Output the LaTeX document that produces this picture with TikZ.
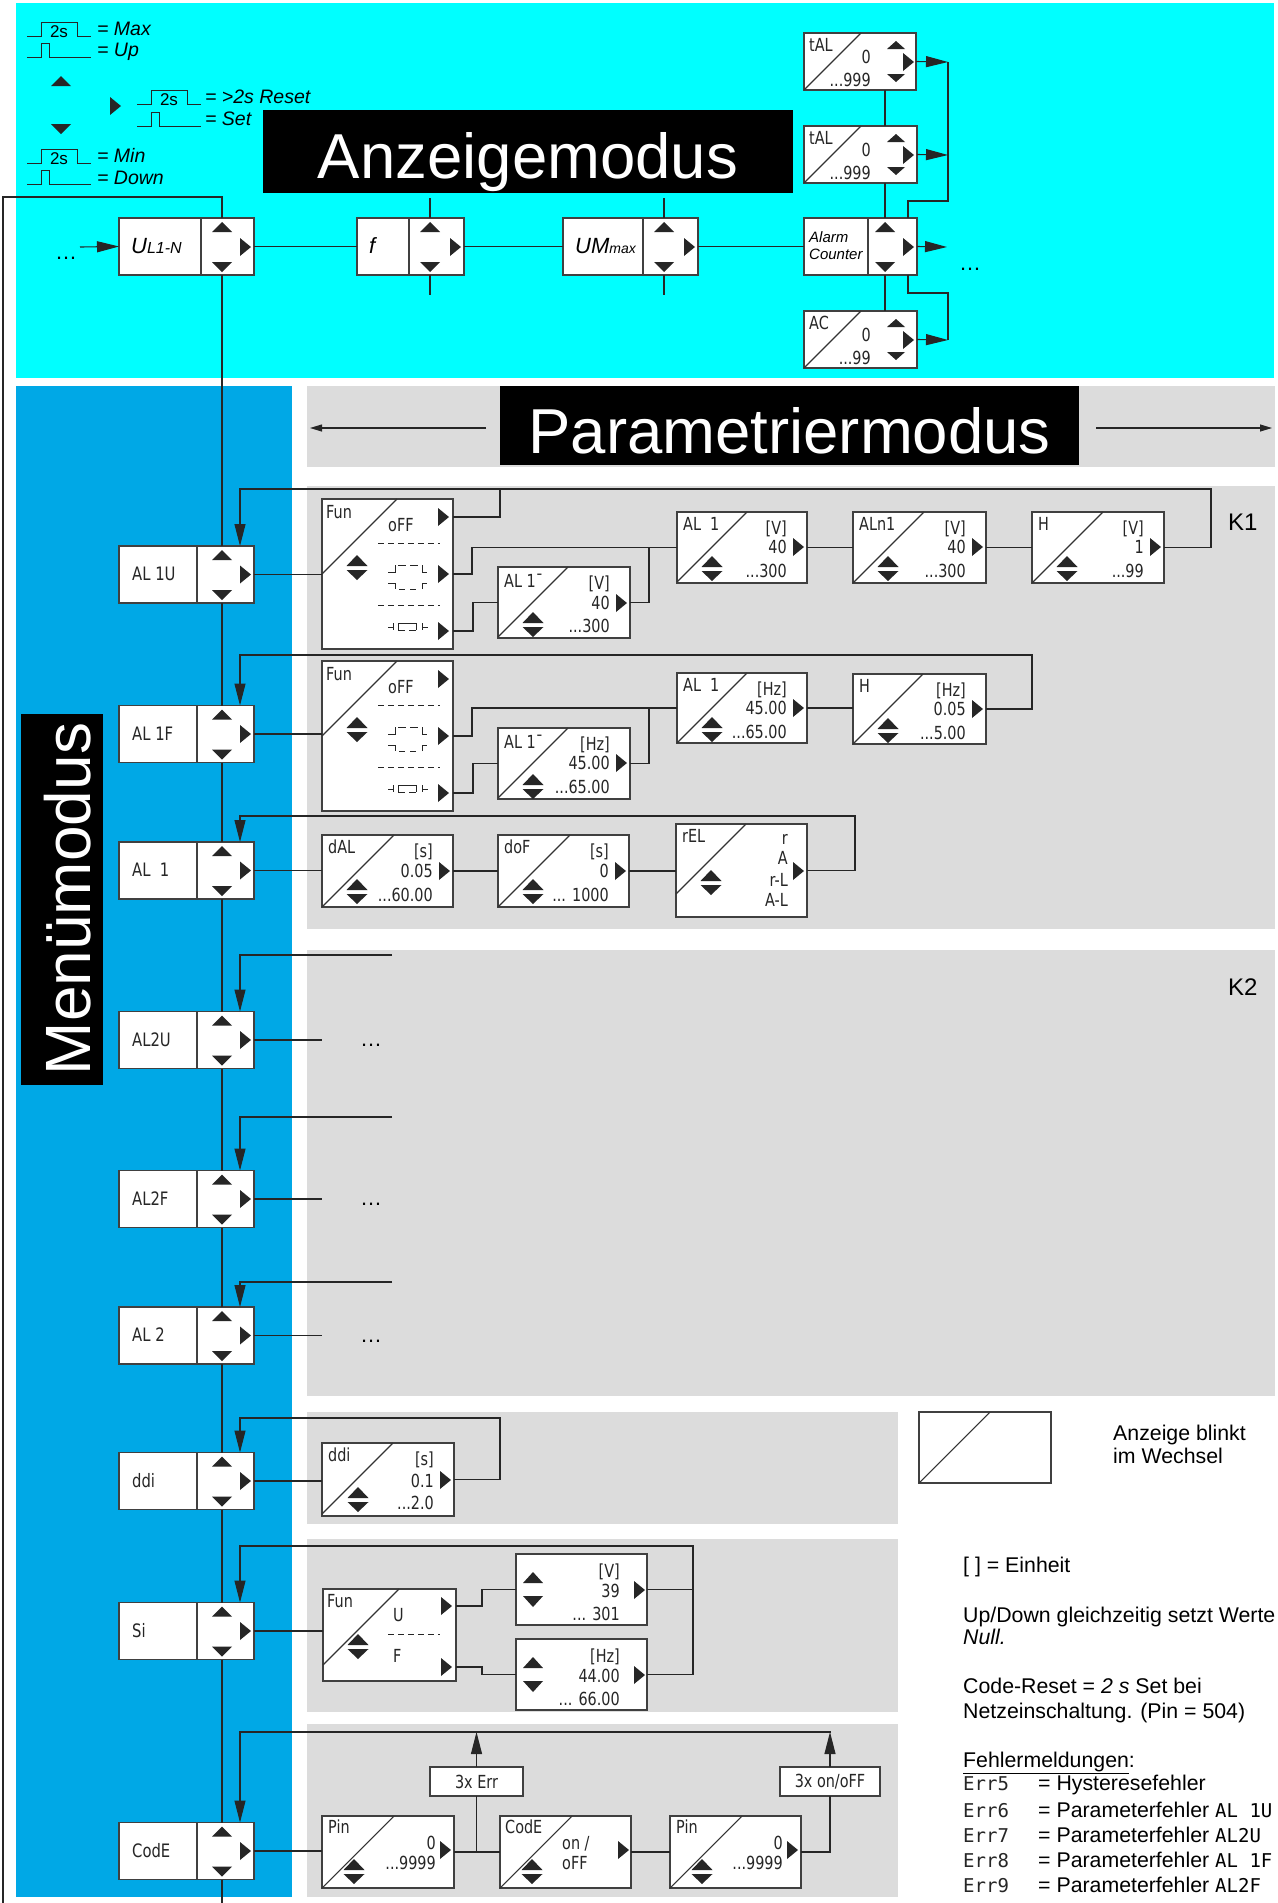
\documentclass[tikz,border=0pt]{standalone}
\usepackage{fontspec}
\setmainfont{Liberation Sans}
\newfontfamily\segf[FakeStretch=0.8]{DejaVu Sans}
\newfontfamily\segmono{DejaVu Sans Mono}
\usetikzlibrary{arrows.meta,fit}

\definecolor{anzcyan}{HTML}{00FFFF}
\definecolor{menublue}{HTML}{00A8E6}
\definecolor{pgrey}{HTML}{DCDCDC}
\definecolor{ink}{HTML}{262626}

\newcounter{lbl}
% text label with an automatic name
\newcommand\lab[3][]{\stepcounter{lbl}\node[inner sep=0pt,#1] (lbl\arabic{lbl}) at (#2) {#3};}

% filled keypad triangles (apex given)
\newcommand\tup[2]{\fill[ink] (#1,#2) -- ++(-10,10) -- ++(20,0) -- cycle;}
\newcommand\tdn[2]{\fill[ink] (#1,#2) -- ++(-10,-10) -- ++(20,0) -- cycle;}
\newcommand\trt[2]{\fill[ink] (#1,#2) -- ++(-11,-9) -- ++(0,18) -- cycle;}
\newcommand\tsup[2]{\fill[ink] (#1,#2) -- ++(-9,8) -- ++(18,0) -- cycle;}
\newcommand\tsdn[2]{\fill[ink] (#1,#2) -- ++(-9,-8) -- ++(18,0) -- cycle;}
% up/down pair (centre given)
\newcommand\tud[2]{\fill[ink] (#1,#2) ++(0,-13) -- ++(10.5,11) -- ++(-21,0) -- cycle;
  \fill[ink] (#1,#2) ++(0,12) -- ++(10.5,-10) -- ++(-21,0) -- cycle;}

% key press pulses: long (2 s) and short
\newcommand\plong[2]{\draw[pls] (#1,#2) -- ++(14,0) -- ++(0,-14) -- ++(36,0) -- ++(0,14) -- ++(14,0);
  \lab[anchor=base, font=\fontsize{17}{17}\selectfont]{#1+32,#2+1}{2s}}
\newcommand\pshort[2]{\draw[pls] (#1,#2) -- ++(14,0) -- ++(0,-14) -- ++(8,0) -- ++(0,14) -- ++(42,0);}

% menu entry: name, centre y, label
\newcommand\menubox[3]{%
  \node[bx, minimum width=135pt, minimum height=57pt] (#1) at (186.5,#2) {};
  \draw[bdr] (197,#2-28.5) -- (197,#2+28.5);
  \lab[segm, anchor=base west]{132,#2+6}{#3}
  \tup{222}{#2-24.5}\tdn{222}{#2+25.5}\trt{251}{#2}}

% parameter display: name, x1, y1, x2, y2, diagonal span
\newcommand\pbox[6]{%
  \node[bx, fit={(#2,#3)(#4,#5)}] (#1) {};
  \draw[dg] (#2,#3+#6) -- (#2+#6,#3);}

% function selection display: name, top
\newcommand\funbox[2]{%
  \pbox{#1}{322}{#2}{453}{#2+150}{75}
  \lab[seg, anchor=base west]{326,#2+19}{Fun}
  \lab[seg, anchor=base west]{388,#2+32}{oFF}
  \draw[sym, dash pattern=on 6pt off 4pt] (378,#2+44) -- (440,#2+44);
  \draw[sym] (388,#2+73) -- (395,#2+73) -- (395,#2+66) (398,#2+66) -- (406,#2+66) (410,#2+66) -- (418,#2+66) (422,#2+66) -- (422,#2+73) -- (427,#2+73);
  \draw[sym] (388,#2+84) -- (395,#2+84) -- (395,#2+90) (399,#2+90) -- (405,#2+90) (410,#2+90) -- (416,#2+90) (422,#2+90) -- (422,#2+84) -- (427,#2+84);
  \draw[sym, dash pattern=on 6pt off 4pt] (378,#2+106) -- (440,#2+106);
  \draw[sym] (388,#2+128) -- (393,#2+128) (393,#2+124) -- (393,#2+131) (398,#2+124) -- (398,#2+131) (398,#2+124) -- (416,#2+124) (398,#2+131) -- (405,#2+131) (409,#2+131) -- (416,#2+131) (416,#2+124) -- (416,#2+131) (422,#2+124) -- (422,#2+131) (422,#2+128) -- (428,#2+128);
  \tud{357}{#2+69}
  \trt{449}{#2+18}\trt{449}{#2+75}\trt{449}{#2+132}
  \coordinate (#1-off) at (453,#2+18);
  \coordinate (#1-win) at (453,#2+75);
  \coordinate (#1-brk) at (453,#2+132);}

\begin{document}
\begin{tikzpicture}[x=1pt,y=-1pt,
  ln/.style={draw=ink, line width=1.1pt},
  pls/.style={draw=ink, line width=1pt},
  bx/.style={draw=black!75, line width=1.5pt, fill=white, inner sep=0pt, outer sep=0pt},
  bdr/.style={draw=black!75, line width=1.5pt},
  dg/.style={draw=black!80, line width=1.1pt},
  sym/.style={draw=ink, line width=1pt},
  arrw/.style={ln, -{Triangle[length=22pt,width=11pt]}},
  arrt/.style={ln, -{Triangle[length=12pt,width=7pt]}},
  seg/.style={font=\segf\fontsize{18}{18}\selectfont, text=ink},
  segm/.style={font=\segf\fontsize{18.5}{18.5}\selectfont, text=ink},
  segl/.style={font=\segmono\fontsize{19}{19}\selectfont, text=ink},
  lgi/.style={font=\itshape\fontsize{19.5}{20}\selectfont},
  lt/.style={font=\fontsize{21.3}{24}\selectfont, anchor=base west},
  big/.style={text=white, font=\fontsize{63.5}{64}\selectfont}]
\useasboundingbox (0,0) rectangle (1277,1903);

% ---------- panels ----------
\fill[anzcyan] (16,3) rectangle (1274,378);
\fill[menublue] (16,386) rectangle (292,1897);
\fill[pgrey] (307,386) rectangle (1275,467);
\fill[pgrey] (307,486) rectangle (1275,929);
\fill[pgrey] (307,950) rectangle (1275,1396);
\fill[pgrey] (307,1412) rectangle (898,1524);
\fill[pgrey] (307,1539) rectangle (898,1712);
\fill[pgrey] (307,1724) rectangle (898,1897);

% ---------- key legend ----------
\plong{27}{36}   \lab[lgi, anchor=base west]{97,35}{= Max}
\pshort{27}{57}  \lab[lgi, anchor=base west]{97,56}{= Up}
\tup{61}{76} \tdn{61}{134} \trt{121}{106}
\plong{137}{104} \lab[lgi, anchor=base west]{205,103}{= >2s Reset}
\pshort{137}{126}\lab[lgi, anchor=base west]{205,125}{= Set}
\plong{27}{163}  \lab[lgi, anchor=base west]{97,162}{= Min}
\pshort{27}{184} \lab[lgi, anchor=base west]{97,184}{= Down}

% ---------- mode titles ----------
\node[fill=black, minimum width=530pt, minimum height=83pt, inner sep=0pt] (anzbox) at (528,151.5) {};
\lab[big, anchor=base]{528,178}{Anzeigemodus}
\node[fill=black, minimum width=579pt, minimum height=79pt, inner sep=0pt] (parbox) at (789.5,425.5) {};
\lab[big, anchor=base]{789.5,453}{Parametriermodus}
\coordinate (parLa) at (486,428); \coordinate (parLb) at (310,428);
\coordinate (parRa) at (1096,428); \coordinate (parRb) at (1272,428);
\draw[arrt] (parLa) -- (parLb);
\draw[arrt] (parRa) -- (parRb);
\node[fill=black, minimum width=82pt, minimum height=371pt, inner sep=0pt] (menbox) at (62,899.5) {};
\lab[rotate=90, anchor=base, text=white, font=\fontsize{64}{64}\selectfont]{90,899}{Menümodus}

% ---------- display mode row ----------
\node[bx, fit={(119,218)(254,275)}] (ul) {};
\draw[bdr] (201,218) -- (201,275);
\lab[anchor=base west, font=\itshape\fontsize{22}{22}\selectfont]{131,253}{U{\fontsize{16}{16}\selectfont L1-N}}
\tup{222}{222}\tdn{222}{272}\trt{251}{247}

\node[bx, fit={(357,218)(464,275)}] (fbx) {};
\draw[bdr] (409,218) -- (409,275);
\lab[anchor=base west, font=\itshape\fontsize{22}{22}\selectfont]{369,253}{f}
\tup{430}{222}\tdn{430}{272}\trt{461}{247}

\node[bx, fit={(563,218)(698,275)}] (um) {};
\draw[bdr] (643,218) -- (643,275);
\lab[anchor=base west, font=\itshape\fontsize{22}{22}\selectfont]{575,253}{UM{\fontsize{14}{14}\selectfont max}}
\tup{664}{222}\tdn{664}{272}\trt{695}{247}

\node[bx, fit={(804,218)(917,275)}] (acn) {};
\draw[bdr] (868,218) -- (868,275);
\lab[anchor=base west, font=\itshape\fontsize{15}{15}\selectfont]{809,242}{Alarm}
\lab[anchor=base west, font=\itshape\fontsize{15}{15}\selectfont]{809,259}{Counter}
\tup{885}{222}\tdn{885}{272}\trt{914}{247}

% alarm counter displays
\pbox{tal1}{804}{33}{916}{90}{57}
\lab[seg, anchor=base west]{809,51}{tAL}
\lab[seg, anchor=base east]{871,63}{0}
\lab[seg, anchor=base east]{871,86}{...999}
\tsup{896}{41}\tsdn{896}{82}\trt{914}{62}

\pbox{tal2}{804}{126}{917}{183}{57}
\lab[seg, anchor=base west]{809,144}{tAL}
\lab[seg, anchor=base east]{871,156}{0}
\lab[seg, anchor=base east]{871,179}{...999}
\tsup{896}{134}\tsdn{896}{175}\trt{914}{155}

\pbox{acb}{804}{311}{917}{368}{57}
\lab[seg, anchor=base west]{809,329}{AC}
\lab[seg, anchor=base east]{871,341}{0}
\lab[seg, anchor=base east]{871,364}{...99}
\tsup{896}{319}\tsdn{896}{360}\trt{914}{340}

% display row connectors
\coordinate (inL) at (80,247);
\lab[anchor=base, font=\fontsize{22}{22}\selectfont]{66,259}{\dots}
\draw[arrw] (inL) -- (ul.west);
\draw[ln] (ul.east) -- (fbx.west);
\draw[ln] (fbx.east) -- (um.west);
\draw[ln] (um.east) -- (acn.west);
\coordinate (acout) at (947,247);
\draw[arrw] (acn.east) -- (acout);
\lab[anchor=base, font=\fontsize{22}{22}\selectfont]{970,270}{\dots}
\coordinate (fT) at (430,198); \coordinate (fB) at (430,295);
\draw[ln] (fT) -- (fT |- fbx.north) (fbx.south -| fB) -- (fB);
\coordinate (uT) at (664,198); \coordinate (uB) at (664,295);
\draw[ln] (uT) -- (uT |- um.north) (um.south -| uB) -- (uB);
\coordinate (cx) at (885,0);
\draw[ln] (tal1.south -| cx) -- (tal2.north -| cx);
\draw[ln] (tal2.south -| cx) -- (acn.north -| cx);
\draw[ln] (acn.south -| cx) -- (acb.north -| cx);
\coordinate (jt1) at (948,62); \coordinate (jt2) at (948,155); \coordinate (jt3) at (948,340);
\coordinate (jup) at (908,201); \coordinate (jdn) at (908,293);
\draw[arrw] (tal1.east) -- (jt1);
\draw[arrw] (tal2.east) -- (jt2);
\draw[arrw] (acb.east) -- (jt3);
\draw[ln] (acn.north -| jup) -- (jup) -| (jt1);
\draw[ln] (acn.south -| jdn) -- (jdn) -| (jt3);

% ---------- menu column ----------
\menubox{m1}{574.5}{AL 1U}
\menubox{m2}{734}{AL 1F}
\menubox{m3}{870.5}{AL\ \ 1}
\menubox{m4}{1040}{AL2U}
\menubox{m5}{1199}{AL2F}
\menubox{m6}{1335.5}{AL 2}
\menubox{m7}{1481}{ddi}
\menubox{m8}{1631}{Si}
\menubox{m9}{1851}{CodE}

% spine and return line
\coordinate (spT) at (222,197); \coordinate (spB) at (222,1903);
\coordinate (fbT) at (3,197); \coordinate (fbB) at (3,1903);
\draw[ln] (fbB) -- (fbT) -- (spT) -- (spT |- ul.north);
\draw[ln] (ul.south -| spT) -- (m1.north -| spT);
\draw[ln] (m1.south -| spT) -- (m2.north -| spT);
\draw[ln] (m2.south -| spT) -- (m3.north -| spT);
\draw[ln] (m3.south -| spT) -- (m4.north -| spT);
\draw[ln] (m4.south -| spT) -- (m5.north -| spT);
\draw[ln] (m5.south -| spT) -- (m6.north -| spT);
\draw[ln] (m6.south -| spT) -- (m7.north -| spT);
\draw[ln] (m7.south -| spT) -- (m8.north -| spT);
\draw[ln] (m8.south -| spT) -- (m9.north -| spT);
\draw[ln] (m9.south -| spT) -- (spB);

% ---------- K1: AL 1U ----------
\funbox{funU}{499}
\pbox{al1mU}{498}{567}{630}{638}{70}
\lab[seg, anchor=base west]{504,587}{AL 1¯}
\lab[seg, anchor=base east]{610,589}{[V]}
\lab[seg, anchor=base east]{610,609}{40}
\lab[seg, anchor=base east]{610,632}{...300}
\tud{533}{625}\trt{627}{603}

\pbox{al1U}{677}{512}{807}{583}{70}
\lab[seg, anchor=base west]{683,530}{AL\ \ 1}
\lab[seg, anchor=base east]{787,534}{[V]}
\lab[seg, anchor=base east]{787,553}{40}
\lab[seg, anchor=base east]{787,577}{...300}
\tud{712}{569}\trt{804}{547}

\pbox{aln1U}{853}{512}{986}{583}{71}
\lab[seg, anchor=base west]{859,530}{ALn1}
\lab[seg, anchor=base east]{966,534}{[V]}
\lab[seg, anchor=base east]{966,553}{40}
\lab[seg, anchor=base east]{966,577}{...300}
\tud{888}{569}\trt{983}{547}

\pbox{hU}{1032}{512}{1164}{583}{71}
\lab[seg, anchor=base west]{1038,530}{H}
\lab[seg, anchor=base east]{1144,534}{[V]}
\lab[seg, anchor=base east]{1144,553}{1}
\lab[seg, anchor=base east]{1144,577}{...99}
\tud{1067}{569}\trt{1161}{547}

\lab[anchor=base west, font=\fontsize{24}{24}\selectfont]{1228,530}{K1}

\draw[ln] (m1.east) -- (m1.east -| funU.west);
\coordinate (offJ) at (500,489);
\draw[ln] (funU-off) -| (offJ);
\draw[ln] (funU-win) -- ++(19,0) |- (al1U.west);
\draw[ln] (al1mU.east) -- ++(19,0) |- (al1U.west);
\draw[ln] (funU-brk) -- ++(20,0) |- (al1mU.west);
\draw[ln] (al1U.east) -- (aln1U.west);
\draw[ln] (aln1U.east) -- (hU.west);
\coordinate (loopR1) at (1211,489); \coordinate (ret1) at (240,489);
\draw[arrw] (hU.east) -| (loopR1) -- (ret1) -- (ret1 |- m1.north);

% ---------- K1: AL 1F ----------
\funbox{funF}{661}
\pbox{al1mF}{498}{728}{630}{799}{70}
\lab[seg, anchor=base west]{504,748}{AL 1¯}
\lab[seg, anchor=base east]{610,750}{[Hz]}
\lab[seg, anchor=base east]{610,769}{45.00}
\lab[seg, anchor=base east]{610,793}{...65.00}
\tud{533}{787}\trt{627}{763}

\pbox{al1F}{677}{673}{807}{743}{70}
\lab[seg, anchor=base west]{683,691}{AL\ \ 1}
\lab[seg, anchor=base east]{787,695}{[Hz]}
\lab[seg, anchor=base east]{787,714}{45.00}
\lab[seg, anchor=base east]{787,738}{...65.00}
\tud{712}{730}\trt{804}{708}

\pbox{hF}{853}{674}{986}{744}{70}
\lab[seg, anchor=base west]{859,692}{H}
\lab[seg, anchor=base east]{966,696}{[Hz]}
\lab[seg, anchor=base east]{966,715}{0.05}
\lab[seg, anchor=base east]{966,739}{...5.00}
\tud{888}{731}\trt{983}{709}

\draw[ln] (m2.east) -- (m2.east -| funF.west);
\draw[ln] (funF-win) -- ++(19,0) |- (al1F.west);
\draw[ln] (al1mF.east) -- ++(19,0) |- (al1F.west);
\draw[ln] (funF-brk) -- ++(20,0) |- (al1mF.west);
\draw[ln] (al1F.east) -- (al1F.east -| hF.west);
\coordinate (loopR2) at (1032,655); \coordinate (ret2) at (240,655);
\draw[arrw] (hF.east) -| (loopR2) -- (ret2) -- (ret2 |- m2.north);

% ---------- K1: AL 1 ----------
\pbox{dal}{322}{835}{453}{907}{72}
\lab[seg, anchor=base west]{328,853}{dAL}
\lab[seg, anchor=base east]{433,857}{[s]}
\lab[seg, anchor=base east]{433,877}{0.05}
\lab[seg, anchor=base east]{433,901}{...60.00}
\tud{357}{892}\trt{450}{871}

\pbox{dof}{498}{835}{629}{907}{72}
\lab[seg, anchor=base west]{504,853}{doF}
\lab[seg, anchor=base east]{609,857}{[s]}
\lab[seg, anchor=base east]{609,877}{0}
\lab[seg, anchor=base east]{609,901}{... 1000}
\tud{533}{892}\trt{626}{871}

\pbox{rel}{676}{824}{807}{917}{70}
\lab[seg, anchor=base west]{682,842}{rEL}
\lab[seg, anchor=base east]{788,844}{r}
\lab[seg, anchor=base east]{788,864}{A}
\lab[seg, anchor=base east]{788,886}{r-L}
\lab[seg, anchor=base east]{788,906}{A-L}
\tud{711}{883}\trt{804}{871}

\draw[ln] (m3.east) -- (m3.east -| dal.west);
\draw[ln] (dal.east) -- (dof.west);
\draw[ln] (dof.east) -- (dof.east -| rel.west);
\coordinate (loopR3) at (855,816); \coordinate (ret3) at (240,816);
\draw[arrw] (rel.east) -| (loopR3) -- (ret3) -- (ret3 |- m3.north);

% ---------- K2 ----------
\lab[anchor=base west, font=\fontsize{24}{24}\selectfont]{1228,995}{K2}
\coordinate (k2o1) at (322,1040); \coordinate (k2o2) at (322,1199); \coordinate (k2o3) at (322,1335.5);
\draw[ln] (m4.east) -- (k2o1);
\draw[ln] (m5.east) -- (k2o2);
\draw[ln] (m6.east) -- (k2o3);
\lab[anchor=base, font=\fontsize{22}{22}\selectfont]{371,1046}{\dots}
\lab[anchor=base, font=\fontsize{22}{22}\selectfont]{371,1205}{\dots}
\lab[anchor=base, font=\fontsize{22}{22}\selectfont]{371,1342}{\dots}
\coordinate (k2r1) at (392,955);  \coordinate (ret4) at (240,955);
\coordinate (k2r2) at (392,1117); \coordinate (ret5) at (240,1117);
\coordinate (k2r3) at (392,1282); \coordinate (ret6) at (240,1282);
\draw[arrw] (k2r1) -- (ret4) -- (ret4 |- m4.north);
\draw[arrw] (k2r2) -- (ret5) -- (ret5 |- m5.north);
\draw[arrw] (k2r3) -- (ret6) -- (ret6 |- m6.north);

% ---------- ddi ----------
\pbox{ddib}{322}{1443}{454}{1516}{71}
\lab[seg, anchor=base west]{328,1461}{ddi}
\lab[seg, anchor=base east]{434,1465}{[s]}
\lab[seg, anchor=base east]{434,1487}{0.1}
\lab[seg, anchor=base east]{434,1509}{...2.0}
\tud{358}{1500}\trt{451}{1480}
\draw[ln] (m7.east) -- (m7.east -| ddib.west);
\coordinate (loopR7) at (500,1418); \coordinate (ret7) at (240,1418);
\draw[arrw] (ddib.east) -| (loopR7) -- (ret7) -- (ret7 |- m7.north);

% ---------- Si ----------
\pbox{fsi}{323}{1589}{456}{1681}{76}
\lab[seg, anchor=base west]{327,1607}{Fun}
\lab[seg, anchor=base west]{393,1621}{U}
\draw[sym, dash pattern=on 6pt off 4pt] (388,1634) -- (440,1634);
\lab[seg, anchor=base west]{393,1662}{F}
\tud{358}{1647}\trt{452}{1606}\trt{452}{1667}
\coordinate (fsi-u) at (456,1606); \coordinate (fsi-f) at (456,1667);

\node[bx, fit={(516,1554)(647,1625)}] (sv) {};
\fill[ink] (533,1572) -- ++(-10,11) -- ++(20,0) -- cycle;
\fill[ink] (533,1607) -- ++(-10,-11) -- ++(20,0) -- cycle;
\lab[seg, anchor=base east]{620,1577}{[V]}
\lab[seg, anchor=base east]{620,1597}{39}
\lab[seg, anchor=base east]{620,1620}{... 301}
\trt{645}{1590}

\node[bx, fit={(516,1639)(647,1710)}] (sh) {};
\fill[ink] (533,1657) -- ++(-10,11) -- ++(20,0) -- cycle;
\fill[ink] (533,1692) -- ++(-10,-11) -- ++(20,0) -- cycle;
\lab[seg, anchor=base east]{620,1662}{[Hz]}
\lab[seg, anchor=base east]{620,1682}{44.00}
\lab[seg, anchor=base east]{620,1705}{... 66.00}
\trt{645}{1675}

\draw[ln] (m8.east) -- (m8.east -| fsi.west);
\draw[ln] (fsi-u) -- ++(26,0) |- (sv.west);
\draw[ln] (fsi-f) -- ++(26,0) |- (sh.west);
\coordinate (loopR8) at (693,1546); \coordinate (ret8) at (240,1546);
\draw[ln] (sv.east) -- (sv.east -| loopR8);
\draw[arrw] (sh.east) -| (loopR8) -- (ret8) -- (ret8 |- m8.north);

% ---------- CodE ----------
\pbox{pin1}{322}{1816}{454}{1888}{72}
\lab[seg, anchor=base west]{328,1833}{Pin}
\lab[seg, anchor=base east]{436,1849}{0}
\lab[seg, anchor=base east]{436,1869}{...9999}
\tud{354}{1872}\trt{451}{1850}

\pbox{code}{500}{1816}{631}{1888}{72}
\lab[seg, anchor=base west]{505,1833}{CodE}
\lab[seg, anchor=base west]{562,1849}{on /}
\lab[seg, anchor=base west]{562,1869}{oFF}
\tud{532}{1872}\trt{629}{1850}

\pbox{pin2}{670}{1816}{801}{1888}{72}
\lab[seg, anchor=base west]{676,1833}{Pin}
\lab[seg, anchor=base east]{783,1849}{0}
\lab[seg, anchor=base east]{783,1869}{...9999}
\tud{702}{1872}\trt{798}{1850}

\node[bx, fit={(430,1767)(523,1796)}] (errb) {};
\lab[seg]{476.5,1782}{3x Err}
\node[bx, fit={(780,1767)(880,1796)}] (onb) {};
\lab[seg]{830,1782}{3x on/oFF}

\draw[ln] (m9.east) -- (m9.east -| pin1.west);
\draw[ln] (pin1.east) -- (code.west);
\draw[ln] (code.east) -- (pin2.west);
\draw[ln] (errb.south |- pin1.east) -- (errb.south);
\draw[ln] (pin2.east) -| (onb.south);
\coordinate (loopR9) at (831,1732); \coordinate (ret9) at (240,1732);
\draw[arrw] (loopR9) -- (ret9) -- (ret9 |- m9.north);
\draw[arrw] (errb.north) -- (errb.north |- ret9);
\draw[arrw] (onb.north) -- (onb.north |- ret9);

% ---------- notes ----------
\node[bx, fit={(919,1412)(1051,1483)}] (blink) {};
\draw[dg] (919,1483) -- (990,1412);
\lab[lt]{1113,1440}{Anzeige blinkt}
\lab[lt]{1113,1463}{im Wechsel}
\lab[lt]{963,1572}{[ ] = Einheit}
\lab[lt]{963,1622}{Up/Down gleichzeitig setzt Werte}
\lab[lt]{963,1644}{\itshape Null.}
\lab[lt]{963,1693}{Code-Reset = \textit{2 s} Set bei}
\lab[lt]{963,1718}{Netzeinschaltung. (Pin = 504)}
\lab[lt]{963,1767}{\underline{Fehlermeldungen}:}
\lab[segl, anchor=base west]{963,1790}{Err5}
\lab[lt]{1038,1790}{= Hysteresefehler}
\lab[segl, anchor=base west]{963,1817}{Err6}
\lab[lt]{1038,1817}{= Parameterfehler {\segmono\fontsize{19}{19}\selectfont AL 1U}}
\lab[segl, anchor=base west]{963,1842}{Err7}
\lab[lt]{1038,1842}{= Parameterfehler {\segmono\fontsize{19}{19}\selectfont AL2U}}
\lab[segl, anchor=base west]{963,1867}{Err8}
\lab[lt]{1038,1867}{= Parameterfehler {\segmono\fontsize{19}{19}\selectfont AL 1F}}
\lab[segl, anchor=base west]{963,1892}{Err9}
\lab[lt]{1038,1892}{= Parameterfehler {\segmono\fontsize{19}{19}\selectfont AL2F}}
\end{tikzpicture}
\end{document}
